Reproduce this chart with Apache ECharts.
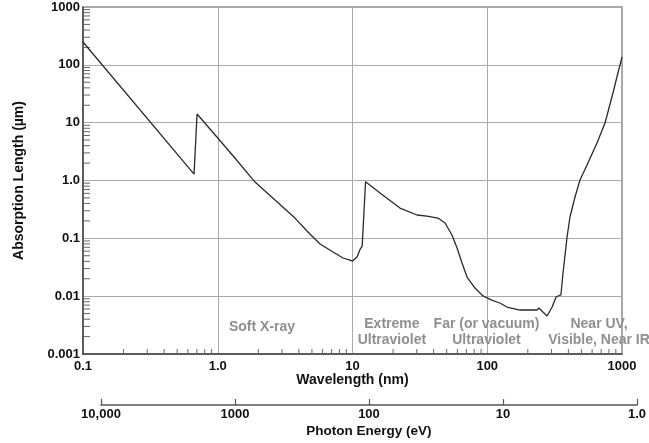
<!DOCTYPE html>
<html>
<head>
<meta charset="utf-8">
<script src="https://cdn.jsdelivr.net/npm/echarts@6/dist/echarts.min.js"></script>
<style>
html,body{margin:0;padding:0;background:#fff;}
#chart{width:649px;height:443px;}
</style>
</head>
<body>
<div id="chart"></div>
<script>
// Wavelength (nm) and silicon absorption length (µm)
const wavelengthNm = [0.1, 0.667, 0.702, 1.0, 1.34, 1.89, 2.66, 3.74, 4.67, 5.74, 7.17, 8.5, 9.58, 10.0, 10.8, 11.4, 11.8, 12.2, 12.5, 16.0, 22.5, 30.1, 35.7, 43.1, 48.6, 54.7, 59.7, 65.0, 70.8, 81.1, 93.0, 108, 124, 140, 175, 234, 242, 259, 278, 303, 324, 352, 365, 391, 411, 448, 488, 550, 652, 748, 857, 933, 1000];
const absorptionUm = [248, 1.29, 14.1, 5.43, 2.45, 0.94, 0.46, 0.224, 0.129, 0.080, 0.058, 0.0457, 0.042, 0.0405, 0.0475, 0.065, 0.0736, 0.0708, 0.95, 0.608, 0.334, 0.253, 0.243, 0.224, 0.184, 0.114, 0.068, 0.0374, 0.0214, 0.0138, 0.0101, 0.00857, 0.00762, 0.00649, 0.00576, 0.00576, 0.00624, 0.00532, 0.00454, 0.00649, 0.00967, 0.0105, 0.0251, 0.105, 0.234, 0.518, 1.02, 1.85, 4.45, 9.86, 32.6, 72.2, 136];

// Tick labels
const yTickLabels = {'-3':'0.001','-2':'0.01','-1':'0.1','0':'1.0','1':'10','2':'100','3':'1000'};
const xTickLabels = {'-1':'0.1','0':'1.0','1':'10','2':'100','3':'1000'};
const energyTickLabels = {'0':'1.0','1':'10','2':'100','3':'1000','4':'10,000'};

// Region annotations (centre wavelength nm, absorption µm level)
const regionNames = ['Soft X-ray', 'Extreme\nUltraviolet', 'Far (or vacuum)\nUltraviolet', 'Near UV,\nVisible, Near IR'];
const regionWavelength = [2.13, 19.6, 98.7, 675];
const regionLevel = [0.0029, 0.0024, 0.0024, 0.0024];

const FONT = "'Liberation Sans', Arial, sans-serif";

function decadeKey(v){ return String(Math.round(Math.log10(v))); }

const yMinor = [], xMinor = [];
for (let k = -3; k <= 2; k++) for (let m = 2; m <= 9; m++) yMinor.push([0.1, m * Math.pow(10, k)]);
for (let k = -1; k <= 2; k++) for (let m = 2; m <= 9; m++) xMinor.push([m * Math.pow(10, k), 0.001]);

const curve = wavelengthNm.map((w, i) => [w, absorptionUm[i]]);
const regions = regionNames.map((n, i) => [regionWavelength[i], regionLevel[i], i]);

const chart = echarts.init(document.getElementById('chart'), null, {renderer:'canvas'});
chart.setOption({
  animation: false,
  backgroundColor: '#fff',
  grid: [
    {left: 83, right: 27, top: 7, bottom: 89, show: true, borderColor: '#8c8c8c', borderWidth: 1.5, backgroundColor: 'transparent'},
    {left: 101, right: 10, top: 404, height: 1, show: false}
  ],
  xAxis: [
    {
      type: 'log', logBase: 10, min: 0.1, max: 1000, gridIndex: 0,
      name: 'Wavelength (nm)', nameLocation: 'middle', nameGap: 19, nameMoveOverlap: false,
      nameTextStyle: {fontFamily: FONT, fontWeight: 'bold', fontSize: 14, color: '#111'},
      axisLine: {show: true, lineStyle: {color: '#444', width: 1.5}},
      axisTick: {show: false},
      axisLabel: {margin: 6, fontFamily: FONT, fontWeight: 'bold', fontSize: 13, color: '#111',
        formatter: v => xTickLabels[decadeKey(v)] || ''},
      splitLine: {show: true, lineStyle: {color: '#aaa', width: 1}}
    },
    {
      type: 'log', logBase: 10, min: 1, max: 10000, inverse: true, gridIndex: 1,
      name: 'Photon Energy (eV)', nameLocation: 'middle', nameGap: 19,
      nameTextStyle: {fontFamily: FONT, fontWeight: 'bold', fontSize: 13.5, color: '#111'},
      axisLine: {show: true, lineStyle: {color: '#555', width: 1.5}},
      axisTick: {show: true, inside: true, length: 6, lineStyle: {color: '#555', width: 1.2}},
      axisLabel: {margin: 3, fontFamily: FONT, fontWeight: 'bold', fontSize: 13, color: '#111',
        formatter: v => energyTickLabels[decadeKey(v)] || ''},
      splitLine: {show: false}
    }
  ],
  yAxis: [
    {
      type: 'log', logBase: 10, min: 0.001, max: 1000, gridIndex: 0,
      name: 'Absorption Length (µm)', nameLocation: 'middle', nameGap: 57,
      nameTextStyle: {fontFamily: FONT, fontWeight: 'bold', fontSize: 14, color: '#111'},
      axisLine: {show: true, lineStyle: {color: '#444', width: 1.5}},
      axisTick: {show: false},
      axisLabel: {margin: 3, fontFamily: FONT, fontWeight: 'bold', fontSize: 13, color: '#111',
        formatter: v => yTickLabels[decadeKey(v)] || ''},
      splitLine: {show: true, lineStyle: {color: '#aaa', width: 1}}
    },
    {type: 'value', gridIndex: 1, show: false, min: 0, max: 1}
  ],
  series: [
    {
      type: 'line', name: 'Si', xAxisIndex: 0, yAxisIndex: 0,
      data: curve, showSymbol: false, symbol: 'none', smooth: false,
      lineStyle: {color: '#2a2a2a', width: 1.3}, z: 5
    },
    {
      type: 'custom', name: 'yMinor', xAxisIndex: 0, yAxisIndex: 0, silent: true, clip: false,
      data: yMinor,
      renderItem: (params, api) => {
        const p = api.coord([api.value(0), api.value(1)]);
        return {type: 'line', shape: {x1: p[0], y1: p[1], x2: p[0] + 7, y2: p[1]}, style: {stroke: '#666', lineWidth: 1}};
      }, z: 4
    },
    {
      type: 'custom', name: 'xMinor', xAxisIndex: 0, yAxisIndex: 0, silent: true, clip: false,
      data: xMinor,
      renderItem: (params, api) => {
        const p = api.coord([api.value(0), api.value(1)]);
        return {type: 'line', shape: {x1: p[0], y1: p[1], x2: p[0], y2: p[1] - 5}, style: {stroke: '#666', lineWidth: 1}};
      }, z: 4
    },
    {
      type: 'custom', name: 'regions', xAxisIndex: 0, yAxisIndex: 0, silent: true, clip: false,
      data: regions,
      renderItem: (params, api) => {
        const p = api.coord([api.value(0), api.value(1)]);
        return {type: 'text', x: p[0], y: p[1], style: {
          text: regionNames[api.value(2)], fill: '#8f8f8f', fontFamily: FONT, fontWeight: 'bold', fontSize: 14,
          align: 'center', verticalAlign: 'middle', lineHeight: 16}};
      }, z: 6
    },
    {type: 'line', xAxisIndex: 1, yAxisIndex: 1, data: [], silent: true}
  ]
});
</script>
</body>
</html>
